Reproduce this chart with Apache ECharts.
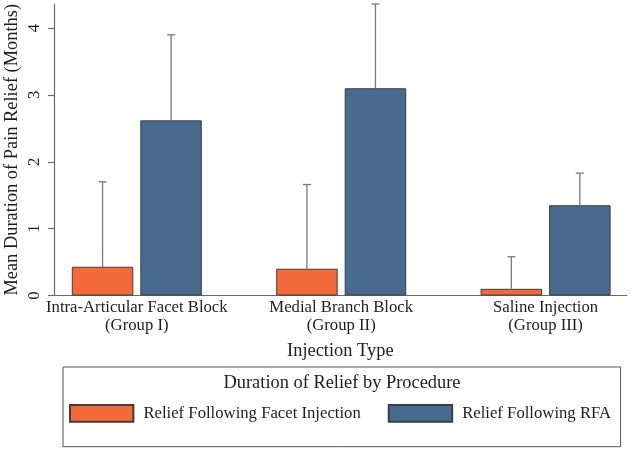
<!DOCTYPE html>
<html>
<head>
<meta charset="utf-8">
<script src="https://cdn.jsdelivr.net/npm/echarts@6/dist/echarts.min.js"></script>
<style>html,body{margin:0;padding:0;background:#fff;}#c{width:631px;height:451px;}</style>
</head>
<body>
<div id="c"></div>
<script>
// ---- data ----
var categories = ['Intra-Articular Facet Block\n(Group I)', 'Medial Branch Block\n(Group II)', 'Saline Injection\n(Group III)'];
var facetMean = [0.43, 0.40, 0.10];
var facetUpper = [1.70, 1.66, 0.58];
var rfaMean = [2.62, 3.10, 1.35];
var rfaUpper = [3.90, 4.36, 1.83];
var yTicks = [0, 1, 2, 3, 4];
var seriesNames = ['Relief Following Facet Injection', 'Relief Following RFA'];

// ---- style ----
var FONT = 'Liberation Serif';
var TXT = '#1e1e1e';
var AXC = '#6a6a6a';
var ORANGE = '#F26A3A';
var BLUE = '#486A8C';
var BAR_W = 61.5;
var GAP_PX = 7;
var Y_MAX = 4.36;

function errData(means, uppers) { return means.map(function (m, i) { return [i, m, uppers[i]]; }); }

function errRender(offsetSign) {
  return function (params, api) {
    var x = api.value(0);
    var top = api.coord([x, api.value(2)]);
    var base = api.coord([x, api.value(1)]);
    var cx = top[0] + offsetSign * (BAR_W + GAP_PX) / 2;
    var half = 4;
    var st = { stroke: '#7a7a7a', lineWidth: 1.3 };
    return {
      type: 'group',
      children: [
        { type: 'line', shape: { x1: cx, y1: base[1], x2: cx, y2: top[1] }, style: st },
        { type: 'line', shape: { x1: cx - half, y1: top[1], x2: cx + half, y2: top[1] }, style: st }
      ]
    };
  };
}

var chart = echarts.init(document.getElementById('c'), null, { renderer: 'canvas' });
chart.setOption({
  animation: false,
  backgroundColor: '#fff',
  textStyle: { fontFamily: FONT, color: TXT },
  grid: [
    { left: 54, width: 572.7, top: 4, height: 291.5, outerBoundsMode: 'none', containLabel: false },
    { left: 34.6, width: 613.2, top: 4, height: 291.5, outerBoundsMode: 'none', containLabel: false }
  ],
  xAxis: [
    {
      gridIndex: 0, type: 'value', min: 0, max: 1,
      name: 'Injection Type', nameLocation: 'middle', nameGap: 47, nameMoveOverlap: false,
      nameTextStyle: { fontFamily: FONT, fontSize: 18.4, color: TXT },
      axisLine: { show: true, lineStyle: { color: AXC, width: 1.2 } },
      axisTick: { show: false }, axisLabel: { show: false }, splitLine: { show: false }
    },
    {
      gridIndex: 1, type: 'category', data: categories, boundaryGap: true,
      axisLine: { show: false }, axisTick: { show: false }, splitLine: { show: false },
      axisLabel: { interval: 0, fontFamily: FONT, fontSize: 16.7, color: TXT, lineHeight: 18, margin: 3 }
    }
  ],
  yAxis: [
    {
      gridIndex: 0, type: 'value', min: 0, max: Y_MAX,
      name: 'Mean Duration of Pain Relief (Months)', nameLocation: 'middle', nameGap: 33, nameRotate: 90,
      nameMoveOverlap: false,
      nameTextStyle: { fontFamily: FONT, fontSize: 18.4, color: TXT },
      axisLine: { show: true, lineStyle: { color: AXC, width: 1.2 } },
      axisTick: { show: true, length: 6, customValues: yTicks, lineStyle: { color: AXC, width: 1.2 } },
      splitLine: { show: false },
      axisLabel: { customValues: yTicks, rotate: 90, fontFamily: FONT, fontSize: 16.7, color: TXT, margin: 11 }
    },
    {
      gridIndex: 1, type: 'value', min: 0, max: Y_MAX, show: false
    }
  ],
  legend: {
    data: seriesNames,
    left: 63, top: 367,
    padding: [37, 9.5, 24, 6],
    itemWidth: 63.4, itemHeight: 16.7, itemGap: 27,
    icon: 'rect',
    borderColor: '#555', borderWidth: 1,
    textStyle: { fontFamily: FONT, fontSize: 16.7, color: TXT, padding: [0, 0, 0, 5] }
  },
  graphic: [{
    type: 'text', x: 342, y: 383,
    style: { text: 'Duration of Relief by Procedure', font: '18.4px "Liberation Serif"', fill: TXT, align: 'center', verticalAlign: 'middle' }
  }],
  series: [
    {
      name: seriesNames[0], type: 'bar', xAxisIndex: 1, yAxisIndex: 1, data: facetMean,
      barWidth: BAR_W, barGap: (GAP_PX / BAR_W * 100) + '%',
      itemStyle: { color: ORANGE, borderColor: '#4a3b35', borderWidth: 1 }
    },
    {
      name: seriesNames[1], type: 'bar', xAxisIndex: 1, yAxisIndex: 1, data: rfaMean,
      barWidth: BAR_W, barGap: (GAP_PX / BAR_W * 100) + '%',
      itemStyle: { color: BLUE, borderColor: '#34404c', borderWidth: 1 }
    },
    { type: 'custom', xAxisIndex: 1, yAxisIndex: 1, data: errData(facetMean, facetUpper), renderItem: errRender(-1), z: 1, silent: true },
    { type: 'custom', xAxisIndex: 1, yAxisIndex: 1, data: errData(rfaMean, rfaUpper), renderItem: errRender(1), z: 1, silent: true }
  ]
});
</script>
</body>
</html>
